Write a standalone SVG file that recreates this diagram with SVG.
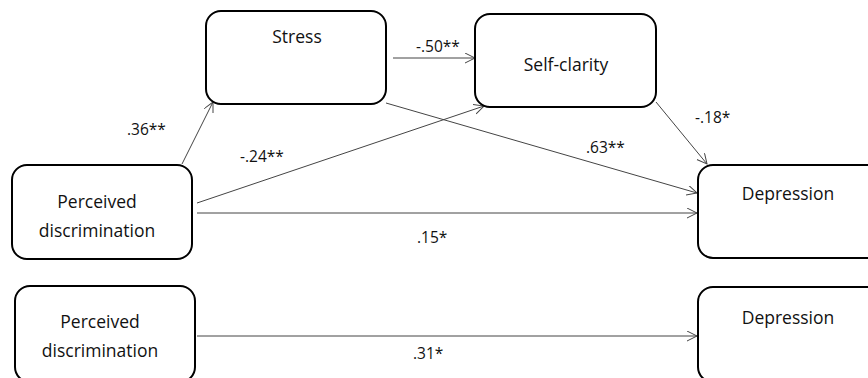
<svg xmlns="http://www.w3.org/2000/svg" width="868" height="378" viewBox="0 0 868 378">
  <defs>
    <marker id="arrow" markerUnits="userSpaceOnUse" markerWidth="12" markerHeight="12" refX="10" refY="5" orient="auto">
      <path d="M0,0 L10,5 L0,10" fill="none" stroke="#444" stroke-width="1"/>
    </marker>
    <style>
      .box { fill: #fff; stroke: #000; stroke-width: 2; }
      .name { font-family: "Open Sans", "Liberation Sans", sans-serif; font-size: 17.5px; fill: #111; text-anchor: middle; }
      .coef { font-family: "Open Sans", "Liberation Sans", sans-serif; font-size: 15.5px; fill: #111; }
      .link { stroke: #444; stroke-width: 1; fill: none; marker-end: url(#arrow); }
    </style>
  </defs>
  <rect width="868" height="378" fill="#fff"/>

  <g id="connectors">
    <line class="link" x1="182" y1="164" x2="213" y2="102"/>
    <line class="link" x1="393" y1="58" x2="475" y2="58"/>
    <line class="link" x1="197" y1="203" x2="484" y2="106"/>
    <line class="link" x1="386" y1="103" x2="697" y2="193"/>
    <line class="link" x1="656" y1="102" x2="707" y2="164"/>
    <line class="link" x1="197" y1="213" x2="697" y2="213"/>
    <line class="link" x1="197" y1="336" x2="697" y2="336"/>
    <text class="coef" x="127" y="135">.36**</text>
    <text class="coef" x="416" y="52">-.50**</text>
    <text class="coef" x="240" y="162">-.24**</text>
    <text class="coef" x="586" y="153">.63**</text>
    <text class="coef" x="695" y="123">-.18*</text>
    <text class="coef" x="417" y="243">.15*</text>
    <text class="coef" x="413" y="359">.31*</text>
  </g>

  <g id="stress">
    <rect class="box" x="206" y="11" width="180" height="93" rx="15"/>
    <text class="name" x="297" y="43">Stress</text>
  </g>
  <g id="self-clarity">
    <rect class="box" x="475" y="14" width="181" height="93" rx="15"/>
    <text class="name" x="566" y="71">Self-clarity</text>
  </g>
  <g id="perceived-discrimination">
    <rect class="box" x="12" y="165" width="180" height="94" rx="15"/>
    <text class="name" x="97" y="208">Perceived</text>
    <text class="name" x="97" y="237">discrimination</text>
  </g>
  <g id="depression">
    <rect class="box" x="698" y="165" width="185" height="93" rx="15"/>
    <text class="name" x="788" y="200">Depression</text>
  </g>
  <g id="perceived-discrimination-total">
    <rect class="box" x="15" y="286" width="180" height="96" rx="15"/>
    <text class="name" x="100" y="328">Perceived</text>
    <text class="name" x="100" y="357">discrimination</text>
  </g>
  <g id="depression-total">
    <rect class="box" x="698" y="287" width="185" height="95" rx="15"/>
    <text class="name" x="788" y="324">Depression</text>
  </g>
</svg>
